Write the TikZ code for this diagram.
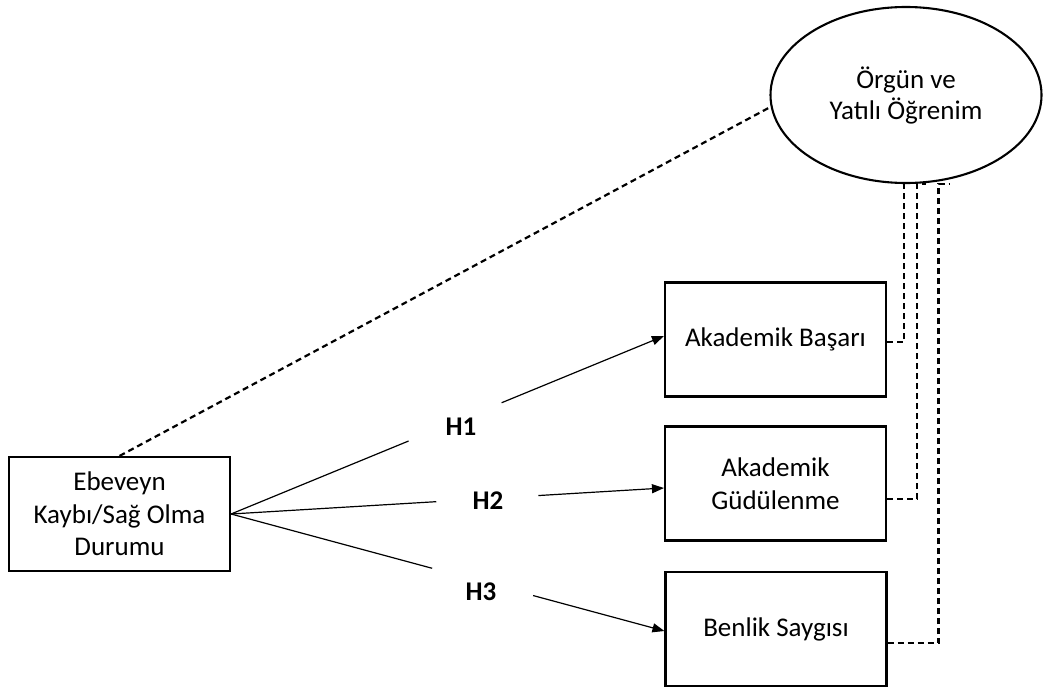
\documentclass[tikz,border=0pt]{standalone}
\usepackage{fontspec}
\setmainfont{Carlito}
\usetikzlibrary{calc,arrows.meta,shapes.geometric}
\begin{document}
\begin{tikzpicture}[x=1pt,y=-1pt,
  box/.style={draw,line width=2.1pt,minimum width=221pt,minimum height=114pt,inner sep=0pt,align=center,font=\fontsize{27}{32.5}\selectfont},
  arr/.style={line width=1.2pt},
  arrh/.style={line width=1.2pt,-{Triangle[length=12pt,width=9pt]}},
  dsh/.style={line width=2.2pt,dash pattern=on 6pt off 4pt},
  hlab/.style={font=\fontsize{27}{32}\selectfont\bfseries,inner sep=0pt}]
\useasboundingbox (0,0) rectangle (1043,690);
\node[box] (e) at (119.5,514) {Ebeveyn\\Kaybı/Sağ Olma\\Durumu};
\node[box] (bas) at (775.5,339.5) {Akademik Başarı};
\node[box] (gud) at (775.5,483.5) {Akademik\\Güdülenme};
\node[box] (ben) at (776,629) {Benlik Saygısı};
\node[draw,ellipse,line width=2.1pt,minimum width=271pt,minimum height=176pt,inner sep=0pt,align=center,font=\fontsize{27}{31}\selectfont] (ell) at (906,95) {Örgün ve\\Yatılı Öğrenim};
% hypothesis arrows
\coordinate (t1) at ([yshift=3.5pt]bas.west);
\coordinate (t2) at ([yshift=-4.5pt]gud.west);
\coordinate (t3) at ([yshift=-2pt]ben.west);
\draw[arr] (e.east) -- ($(e.east)!0.41!(t1)$);
\draw[arrh] ($(e.east)!0.625!(t1)$) -- (t1);
\draw[arr] (e.east) -- ($(e.east)!0.474!(t2)$);
\draw[arrh] ($(e.east)!0.71!(t2)$) -- (t2);
\draw[arr] (e.east) -- ($(e.east)!0.464!(t3)$);
\draw[arrh] ($(e.east)!0.697!(t3)$) -- (t3);
\node[hlab] (h1) at (461,427) {H1};
\node[hlab] (h2) at (488,501) {H2};
\node[hlab] (h3) at (481,592) {H3};
% dashed connectors
\draw[dsh] (e.north) -- (ell.185);
\coordinate (cA) at (906,183);
\coordinate (cB) at (926,184);
\coordinate (cC) at (949,184);
\draw[dsh] ([yshift=-2.5pt]bas.east) -- ++(17,0) |- (cA);
\draw[dsh] ([yshift=-15.5pt]gud.east) -- ++(30,0) |- (cB);
\draw[dsh] ([yshift=-14pt]ben.east) -- ++(51,0) |- (cC);
\end{tikzpicture}
\end{document}
